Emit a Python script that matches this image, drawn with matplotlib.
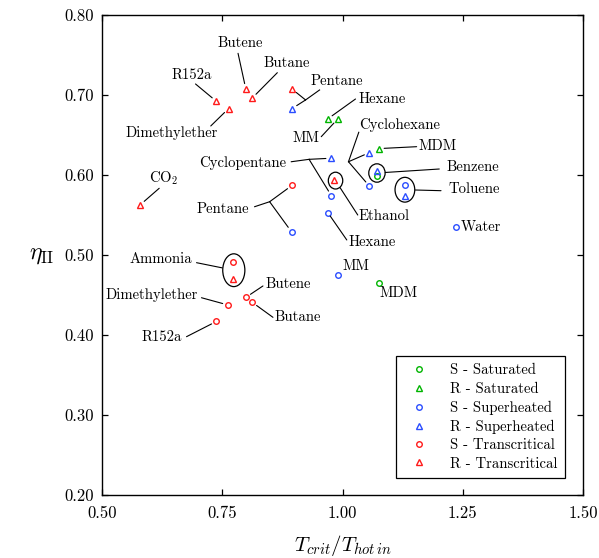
import matplotlib
matplotlib.use('Agg')
import matplotlib.pyplot as plt
from matplotlib.patches import Ellipse

plt.rcParams['font.family'] = 'cmr10'
plt.rcParams['mathtext.fontset'] = 'cm'
plt.rcParams['axes.formatter.use_mathtext'] = True

# series: S = simple, R = recuperated
s_sat_x = [1.075, 1.072]
s_sat_y = [0.465, 0.599]
r_sat_x = [0.969, 0.990, 1.075]
r_sat_y = [0.670, 0.670, 0.633]
s_sup_x = [0.894, 0.9695, 0.977, 1.056, 1.129, 1.235, 0.990]
s_sup_y = [0.529, 0.553, 0.574, 0.586, 0.5875, 0.535, 0.475]
r_sup_x = [0.895, 0.977, 1.056, 1.072, 1.129]
r_sup_y = [0.683, 0.621, 0.628, 0.6045, 0.574]
s_tc_x = [0.895, 0.7725, 0.762, 0.799, 0.812, 0.738]
s_tc_y = [0.587, 0.491, 0.4375, 0.447, 0.441, 0.417]
r_tc_x = [0.579, 0.738, 0.763, 0.799, 0.812, 0.895, 0.982, 0.7725]
r_tc_y = [0.5625, 0.692, 0.683, 0.7075, 0.696, 0.7075, 0.594, 0.470]

green = '#00b400'
blue = '#2a4dff'
red = '#ff1a1a'

fig = plt.figure(figsize=(5.99, 5.58), dpi=100)
ax = fig.add_axes([0.1703, 0.1129, 0.803, 0.8602])

mk = dict(linestyle='none', markerfacecolor='none', markeredgewidth=1.0)
ax.plot(s_sat_x, s_sat_y, 'o', color=green, markersize=4, label='S - Saturated', **mk)
ax.plot(r_sat_x, r_sat_y, '^', color=green, markersize=5, label='R - Saturated', **mk)
ax.plot(s_sup_x, s_sup_y, 'o', color=blue, markersize=4, label='S - Superheated', **mk)
ax.plot(r_sup_x, r_sup_y, '^', color=blue, markersize=5, label='R - Superheated', **mk)
ax.plot(s_tc_x, s_tc_y, 'o', color=red, markersize=4, label='S - Transcritical', **mk)
ax.plot(r_tc_x, r_tc_y, '^', color=red, markersize=5, label='R - Transcritical', **mk)

# groups circled on the chart: (center x, center y, width, height)
rings = [(0.9855, 0.593, 0.030, 0.021),   # Ethanol
         (1.0716, 0.6025, 0.034, 0.023),  # Benzene
         (1.1297, 0.5816, 0.041, 0.031),  # Toluene
         (0.774, 0.481, 0.046, 0.041)]    # Ammonia
for cx, cy, w, h in rings:
    ax.add_patch(Ellipse((cx, cy), w, h, fill=False, edgecolor='black', lw=0.9))

fs = 10.6
lk = dict(color='black', lw=0.8)

def leader(start, target, shrink=3.5):
    ax.annotate('', xy=target, xytext=start,
                arrowprops=dict(arrowstyle='-', shrinkA=0, shrinkB=shrink, **lk))

def label(txt, pos, ha='center'):
    ax.text(pos[0], pos[1], txt, fontsize=fs, ha=ha, va='center')

# single leaders: text, text position, line start, target point, shrink
single = [
    ('Butene', (0.788, 0.7654), (0.7828, 0.7521), (r_tc_x[3], r_tc_y[3]), 4),
    ('Butane', (0.8832, 0.7396), (0.8645, 0.7279), (r_tc_x[4], r_tc_y[4]), 4),
    ('R152a', (0.6861, 0.725), (0.6944, 0.7138), (r_tc_x[1], r_tc_y[1]), 4),
    ('Dimethylether', (0.6446, 0.6521), (0.7261, 0.6613), (r_tc_x[2], r_tc_y[2]), 4),
    ('MM', (0.9247, 0.6459), (0.9558, 0.6479), (r_sat_x[1], r_sat_y[1]), 4),
    ('CO$_2$', (0.6272, 0.5959), (0.6189, 0.5834), (r_tc_x[0], r_tc_y[0]), 4),
    ('MDM', (1.1977, 0.6366), (1.1541, 0.6354), (r_sat_x[2], r_sat_y[2]), 4),
    ('Benzene', (1.2703, 0.6104), (1.2012, 0.6075), (rings[1][0], rings[1][1]), 6),
    ('Toluene', (1.2739, 0.5821), (1.2048, 0.5804), (rings[2][0], rings[2][1]), 7.5),
    ('Ethanol', (1.0871, 0.5488), (1.0317, 0.55), (rings[0][0], rings[0][1]), 6),
    ('Hexane', (1.0616, 0.5166), (1.0089, 0.5188), (s_sup_x[1], s_sup_y[1]), 3),
    ('Ammonia', (0.6224, 0.4946), (0.6965, 0.4904), (rings[3][0], rings[3][1]), 8.5),
    ('Dimethylether', (0.6031, 0.45), (0.7068, 0.4466), (s_tc_x[2], s_tc_y[2]), 4),
    ('Butene', (0.8865, 0.4634), (0.8346, 0.4613), (s_tc_x[3], s_tc_y[3]), 4),
    ('Butane', (0.9073, 0.4221), (0.8554, 0.4221), (s_tc_x[4], s_tc_y[4]), 4),
    ('R152a', (0.6237, 0.3979), (0.6757, 0.3979), (s_tc_x[5], s_tc_y[5]), 4),
]
for txt, pos, start, target, sh in single:
    label(txt, pos)
    leader(start, target, sh)

# Hexane (top) label is left aligned
ax.text(1.0338, 0.695, 'Hexane', fontsize=fs, ha='left', va='center')
leader((1.027, 0.695), (r_sat_x[0], r_sat_y[0]), 4)

# forked leaders: text, text position, line start, junction, targets
forked = [
    ('Pentane', (0.9876, 0.7175), (0.9523, 0.7063), (0.9232, 0.6938),
     [(r_tc_x[5], r_tc_y[5]), (r_sup_x[0], r_sup_y[0])]),
    ('Cyclopentane', (0.7932, 0.6154), (0.8936, 0.6166), (0.9305, 0.6196),
     [(r_sup_x[1], r_sup_y[1]), (s_sup_x[2], s_sup_y[2])]),
    ('Pentane', (0.7517, 0.5571), (0.8174, 0.5604), (0.8485, 0.5666),
     [(s_tc_x[0], s_tc_y[0]), (s_sup_x[0], s_sup_y[0])]),
    ('Cyclohexane', (1.1183, 0.6625), (1.0338, 0.6534), (1.0124, 0.6166),
     [(r_sup_x[2], r_sup_y[2]), (s_sup_x[3], s_sup_y[3])]),
]
for txt, pos, start, junc, targets in forked:
    label(txt, pos)
    ax.plot([start[0], junc[0]], [start[1], junc[1]], **lk)
    for t in targets:
        leader(junc, t, 4)

# plain labels next to points
ax.text(1.2463, 0.5346, 'Water', fontsize=fs, ha='left', va='center')
ax.text(0.9994, 0.4866, 'MM', fontsize=fs, ha='left', va='center')
ax.text(1.0768, 0.4521, 'MDM', fontsize=fs, ha='left', va='center')

ax.set_xlim(0.5, 1.5)
ax.set_ylim(0.2, 0.8)
ax.set_xticks([0.5, 0.75, 1.0, 1.25, 1.5])
ax.set_xticklabels(['0.50', '0.75', '1.00', '1.25', '1.50'])
ax.set_yticks([0.2, 0.3, 0.4, 0.5, 0.6, 0.7, 0.8])
ax.set_yticklabels(['0.20', '0.30', '0.40', '0.50', '0.60', '0.70', '0.80'])
ax.tick_params(direction='in', top=True, right=True, length=4, width=0.9,
               labelsize=12)
ax.tick_params(axis='x', pad=8)
ax.tick_params(axis='y', pad=6)
for sp in ax.spines.values():
    sp.set_linewidth(1.0)

ax.set_xlabel(r'$T_{crit}/T_{hot\,in}$', fontsize=15, labelpad=8)
ax.set_ylabel(r'$\eta_{\mathrm{II}}$', fontsize=17, rotation=0, labelpad=16,
              va='center')

leg = ax.legend(loc='lower right', bbox_to_anchor=(0.9626, 0.0354), fontsize=fs,
                fancybox=False, edgecolor='black', framealpha=1, handlelength=2.2,
                handletextpad=1.0, labelspacing=0.32, borderpad=0.5,
                borderaxespad=0)
leg.get_frame().set_linewidth(0.9)

fig.savefig('out.png', dpi=100)
